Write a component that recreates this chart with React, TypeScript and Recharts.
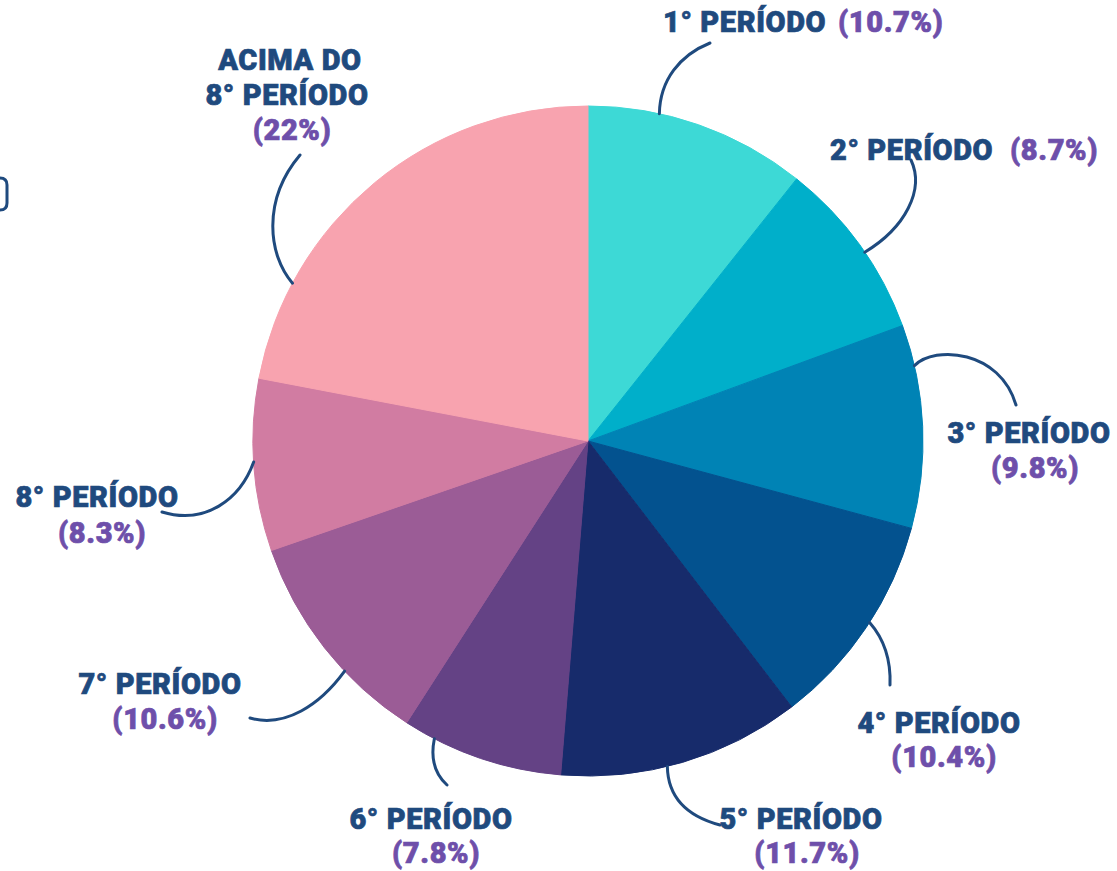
import React from 'react';
import { PieChart, Pie, Cell } from 'recharts';

// ---- data ----
const categories = [
  '1° PERÍODO',
  '2° PERÍODO',
  '3° PERÍODO',
  '4° PERÍODO',
  '5° PERÍODO',
  '6° PERÍODO',
  '7° PERÍODO',
  '8° PERÍODO',
  'ACIMA DO 8° PERÍODO',
];
const shares = [10.7, 8.7, 9.8, 10.4, 11.7, 7.8, 10.6, 8.3, 22];
const sliceColors = [
  '#3DD9D6',
  '#00AFCA',
  '#0083B5',
  '#03528F',
  '#172B6B',
  '#644285',
  '#9B5C96',
  '#D17CA2',
  '#F8A3AF',
];

const data = categories.map((name, i) => ({ name, value: shares[i] }));

// ---- styling / layout ----
const W = 1117;
const H = 871;
const CX = 588;
const CY = 441;
const R = 335;
const NAVY = '#1F4A7E';
const PURPLE = '#6E4FAA';
const FONT = 'Roboto, "Open Sans", sans-serif';
const FS = 29;

type P = [number, number];
type LabelLayout = {
  a: number; // leader start, degrees clockwise from top
  c1: P;
  c2: P;
  end: P;
  inline?: boolean;
  name: P;
  pct: P;
  split?: boolean;
};

const layout: LabelLayout[] = [
  { a: 12.3, c1: [72, -361], c2: [92, -386], end: [122, -398], inline: true, name: [75, -409], pct: [250, -409] },
  { a: 55.7, c1: [317, -213], c2: [337, -251], end: [323, -281], inline: true, name: [242, -281], pct: [422, -281] },
  { a: 77, c1: [347, -96], c2: [412, -91], end: [428, -36], name: [441, 2], pct: [447, 37] },
  { a: 122.8, c1: [297, 199], c2: [303, 219], end: [302, 244], name: [351, 292], pct: [356, 326] },
  { a: 166.3, c1: [80, 359], c2: [102, 376], end: [132, 384], name: [213, 388], pct: [219, 422] },
  { a: 207.3, c1: [-158, 319], c2: [-152, 334], end: [-141, 344], name: [-157, 388], pct: [-152, 422] },
  { a: 226.6, c1: [-268, 264], c2: [-303, 287], end: [-338, 277], name: [-428, 253], pct: [-423, 288] },
  { a: 266.4, c1: [-348, 59], c2: [-383, 84], end: [-426, 71], name: [-491, 66], pct: [-486, 102] },
  { a: 298.1, c1: [-320, -186], c2: [-326, -241], end: [-288, -286], name: [-298, -371], pct: [-296, -301], split: true },
];

const renderLabel = (props: any) => {
  const { cx, cy, outerRadius, index, name, value } = props;
  const L = layout[index];
  if (!L) return null;
  const rad = (L.a * Math.PI) / 180;
  const sx = cx + outerRadius * Math.sin(rad);
  const sy = cy - outerRadius * Math.cos(rad);
  const d = `M${sx},${sy} C${cx + L.c1[0]},${cy + L.c1[1]} ${cx + L.c2[0]},${cy + L.c2[1]} ${cx + L.end[0]},${cy + L.end[1]}`;
  const anchor = L.inline ? 'start' : 'middle';
  const textStyle = {
    fontFamily: FONT,
    fontWeight: 900,
    fontSize: FS,
    letterSpacing: 0.6,
  } as React.CSSProperties;
  const nm = String(name);
  let nameEl;
  if (L.split) {
    const parts = ['ACIMA DO', nm.replace('ACIMA DO ', '')];
    nameEl = (
      <text textAnchor="middle" fill={NAVY} stroke={NAVY} strokeWidth={0.7} style={textStyle}>
        <tspan x={cx + L.name[0]} y={cy + L.name[1]}>{parts[0]}</tspan>
        <tspan x={cx + L.name[0] - 3} y={cy + L.name[1] + 35}>{parts[1]}</tspan>
      </text>
    );
  } else {
    nameEl = (
      <text x={cx + L.name[0]} y={cy + L.name[1]} textAnchor={anchor} fill={NAVY} stroke={NAVY} strokeWidth={0.7} style={textStyle}>
        {nm}
      </text>
    );
  }
  return (
    <g key={`lbl-${index}`}>
      <path d={d} fill="none" stroke={NAVY} strokeWidth={3} strokeLinecap="round" />
      {nameEl}
      <text x={cx + L.pct[0]} y={cy + L.pct[1]} textAnchor={anchor} fill={PURPLE} stroke={PURPLE} strokeWidth={0.7} style={textStyle}>
        {`(${value}%)`}
      </text>
    </g>
  );
};

export default function App() {
  return (
    <div style={{ position: 'absolute', left: 0, top: 0, width: W, height: H, background: '#fff', overflow: 'hidden' }}>
      <PieChart width={W} height={H} margin={{ top: 0, right: 0, bottom: 0, left: 0 }}>
        <Pie
          data={data}
          dataKey="value"
          nameKey="name"
          cx={CX}
          cy={CY}
          outerRadius={R}
          innerRadius={0}
          startAngle={90}
          endAngle={-270}
          isAnimationActive={false}
          labelLine={false}
          label={renderLabel}
        >
          {data.map((d, i) => (
            <Cell key={d.name} fill={sliceColors[i]} stroke={sliceColors[i]} strokeWidth={1} />
          ))}
        </Pie>
      </PieChart>
      <svg width={20} height={60} style={{ position: 'absolute', left: 0, top: 160 }}>
        <path d="M-20,18 H0 Q7,18 7,25 V43 Q7,50 0,50 H-20" fill="none" stroke={NAVY} strokeWidth={3} />
      </svg>
    </div>
  );
}
